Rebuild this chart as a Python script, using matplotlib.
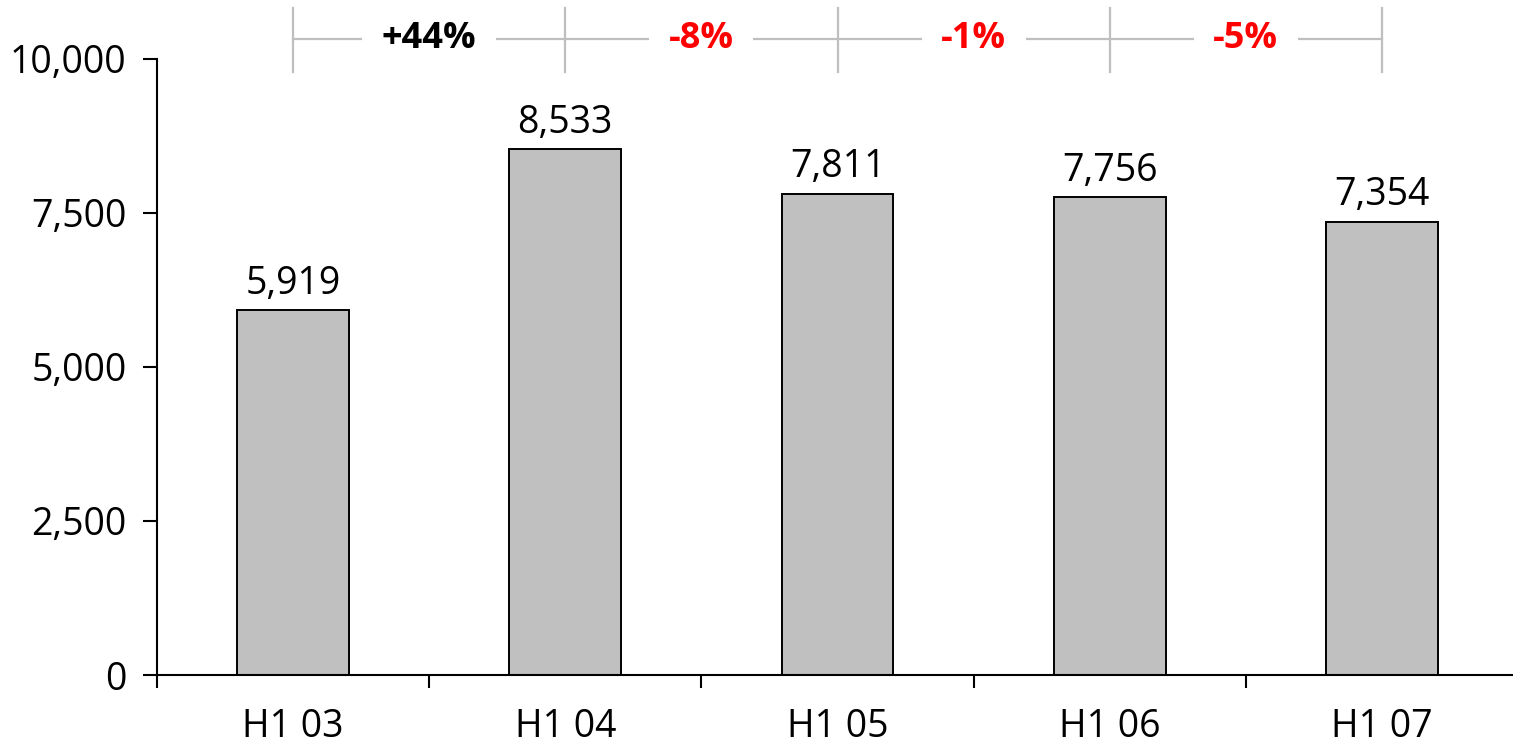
import matplotlib
matplotlib.use("Agg")
import matplotlib.pyplot as plt
from matplotlib.ticker import FuncFormatter, FixedLocator

categories = ["H1 03", "H1 04", "H1 05", "H1 06", "H1 07"]
values = [5919, 8533, 7811, 7756, 7354]
growth_labels = ["+44%", "-8%", "-1%", "-5%"]
growth_colors = ["black", "red", "red", "red"]

plt.rcParams['font.family'] = ['Open Sans', 'DejaVu Sans']

fig = plt.figure(figsize=(15.13, 7.45), dpi=100)
# axis runs past the right edge of the picture, as in the original
ax = fig.add_axes([157 / 1513, 70 / 745, 1361 / 1513, 616 / 745])

x = list(range(len(categories)))
ax.bar(x, values, width=0.41, color="#C0C0C0", edgecolor="black", linewidth=1.4, zorder=2)

for xi, v in zip(x, values):
    ax.annotate(f"{v:,}", (xi, v), xytext=(0, 12), textcoords="offset points",
                ha="center", va="baseline", fontsize=27)

ax.set_xlim(-0.5, len(categories) - 0.5)
ax.set_ylim(0, 10000)
ax.set_yticks([0, 2500, 5000, 7500, 10000])
ax.yaxis.set_major_formatter(FuncFormatter(lambda v, p: f"{int(v):,}"))

# category labels centred, tick marks between categories
ax.set_xticks(x)
ax.set_xticklabels(categories)
ax.xaxis.set_minor_locator(FixedLocator([i - 0.5 for i in range(len(categories) + 1)]))
ax.tick_params(axis="x", which="major", length=0, pad=24, labelsize=27)
ax.tick_params(axis="x", which="minor", length=9, width=1.5, direction="out")
ax.tick_params(axis="y", length=10, width=1.5, direction="out", pad=12, labelsize=27)

for s in ["top", "right"]:
    ax.spines[s].set_visible(False)
for s in ["left", "bottom"]:
    ax.spines[s].set_linewidth(1.5)

# growth brackets above the bars
trans = ax.get_xaxis_transform()
gray = "#BFBFBF"
ax.plot([x[0], x[-1]], [1.0325, 1.0325], transform=trans, color=gray, lw=1.6, clip_on=False, zorder=1)
for xi in x:
    ax.plot([xi, xi], [0.979, 1.0828], transform=trans, color=gray, lw=1.6, clip_on=False, zorder=1)
for i, (lab, col) in enumerate(zip(growth_labels, growth_colors)):
    ax.text(i + 0.5, 1.0325, lab, transform=trans, ha="center", va="center",
            fontsize=26, fontweight="bold", color=col, zorder=3,
            bbox=dict(facecolor="white", edgecolor="none", pad=14))

fig.savefig("out.png", dpi=100)
